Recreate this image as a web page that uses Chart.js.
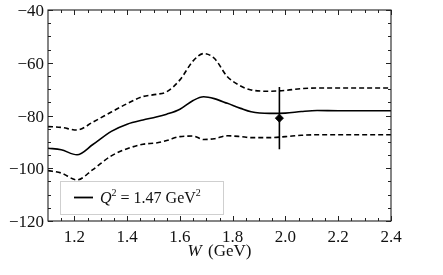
<!DOCTYPE html>
<html><head><meta charset="utf-8">
<script src="https://cdn.jsdelivr.net/npm/chart.js@4/dist/chart.umd.min.js"></script>
<style>html,body{margin:0;padding:0;background:#fff;}#wrap{width:443px;height:275px;position:relative;}</style>
</head><body><div id="wrap"><canvas id="c" width="443" height="275"></canvas></div>
<script>
// ---- data ----
const W       = [1.10, 1.15, 1.21, 1.27, 1.34, 1.40, 1.46, 1.51, 1.55, 1.60, 1.65, 1.69, 1.73, 1.78, 1.83, 1.87, 1.94, 2.00, 2.06, 2.12, 2.20, 2.30, 2.40];
const central = [-92.4, -93.0, -94.9, -91.0, -86.0, -83.3, -81.7, -80.6, -79.5, -77.6, -74.3, -72.9, -73.6, -75.4, -77.3, -78.6, -79.2, -79.1, -78.5, -78.1, -78.2, -78.2, -78.2];
const upper   = [-84.2, -84.5, -85.5, -82.5, -78.7, -75.5, -72.8, -72.0, -71.0, -66.5, -59.3, -56.5, -58.3, -65.3, -68.8, -70.3, -70.8, -70.5, -69.8, -69.6, -69.6, -69.6, -69.6];
const lower   = [-100.9, -101.8, -104.4, -100.5, -95.3, -92.6, -90.9, -90.4, -89.5, -88.0, -87.8, -89.1, -88.8, -87.7, -88.0, -88.4, -88.4, -88.0, -87.5, -87.3, -87.3, -87.3, -87.3];
const pointW   = [1.977];
const pointVal = [-81.0];
const pointErr = [11.8];
const xMajorTicks = [1.2, 1.4, 1.6, 1.8, 2.0, 2.2, 2.4];
const xTickLabels = ["1.2", "1.4", "1.6", "1.8", "2.0", "2.2", "2.4"];
const xMinorTicks = [1.15, 1.25, 1.30, 1.35, 1.45, 1.50, 1.55, 1.65, 1.70, 1.75, 1.85, 1.90, 1.95, 2.05, 2.10, 2.15, 2.25, 2.30, 2.35];
const yMajorTicks = [-120, -100, -80, -60, -40];
const yTickLabels = ["\u2212120", "\u2212100", "\u221280", "\u221260", "\u221240"];
const yMinorTicks = [-115, -110, -105, -95, -90, -85, -75, -70, -65, -55, -50, -45];
const legendQ2 = "1.47";

const FONT = "'Liberation Serif', 'Times New Roman', serif";
Chart.defaults.font.family = FONT;
const toXY = (xs, ys) => xs.map((x, i) => ({x: x, y: ys[i]}));

const decor = {
  id: 'decor',
  afterDatasetsDraw(chart) {
    const ctx = chart.ctx, xs = chart.scales.x, ys = chart.scales.y, a = chart.chartArea;
    ctx.save();
    // error bars
    ctx.strokeStyle = '#000'; ctx.lineWidth = 1.6;
    pointW.forEach((w, i) => {
      const px = xs.getPixelForValue(w);
      ctx.beginPath();
      ctx.moveTo(px, ys.getPixelForValue(pointVal[i] + pointErr[i]));
      ctx.lineTo(px, ys.getPixelForValue(pointVal[i] - pointErr[i]));
      ctx.stroke();
    });
    // frame
    ctx.strokeStyle = '#222'; ctx.lineWidth = 1.1;
    ctx.strokeRect(a.left, a.top, a.right - a.left, a.bottom - a.top);
    // inward ticks
    ctx.lineWidth = 1;
    const tx = (vals, len) => vals.forEach(v => {
      const p = Math.round(xs.getPixelForValue(v)) + 0.5;
      ctx.beginPath(); ctx.moveTo(p, a.bottom); ctx.lineTo(p, a.bottom - len);
      ctx.moveTo(p, a.top); ctx.lineTo(p, a.top + len); ctx.stroke();
    });
    const ty = (vals, len) => vals.forEach(v => {
      const p = Math.round(ys.getPixelForValue(v)) + 0.5;
      ctx.beginPath(); ctx.moveTo(a.left, p); ctx.lineTo(a.left + len, p);
      ctx.moveTo(a.right, p); ctx.lineTo(a.right - len, p); ctx.stroke();
    });
    tx(xMajorTicks, 5); tx(xMinorTicks, 3);
    ty(yMajorTicks, 5); ty(yMinorTicks, 3);
    // tick labels
    ctx.fillStyle = '#111'; ctx.textBaseline = 'alphabetic';
    ctx.font = "17px " + FONT;
    ctx.textAlign = 'center';
    xMajorTicks.forEach((v, i) => ctx.fillText(xTickLabels[i], xs.getPixelForValue(v), a.bottom + 21));
    ctx.textAlign = 'right';
    yMajorTicks.forEach((v, i) => ctx.fillText(yTickLabels[i], a.left - 4, ys.getPixelForValue(v) + 6));
    ctx.textAlign = 'left';
    // x-axis title
    const cx = (a.left + a.right) / 2;
    ctx.font = "italic 17px " + FONT;
    const wW = ctx.measureText('W').width + 2;
    ctx.font = "17px " + FONT;
    const rest = ' (GeV)';
    const wR = ctx.measureText(rest).width;
    const x0 = cx - (wW + wR) / 2;
    ctx.font = "italic 17px " + FONT; ctx.fillText('W', x0, 256);
    ctx.font = "17px " + FONT; ctx.fillText(rest, x0 + wW, 256);
    // legend box
    const lx = 60, ly = 181, lw = 163, lh = 33;
    ctx.fillStyle = '#fff'; ctx.fillRect(lx, ly, lw, lh);
    ctx.strokeStyle = '#cfcfcf'; ctx.lineWidth = 1;
    ctx.strokeRect(lx + 0.5, ly + 0.5, lw, lh);
    ctx.strokeStyle = '#000'; ctx.lineWidth = 1.8;
    ctx.beginPath(); ctx.moveTo(74, 197.5); ctx.lineTo(93, 197.5); ctx.stroke();
    ctx.fillStyle = '#111';
    let x = 100; const base = 203;
    ctx.font = "italic 16px " + FONT; ctx.fillText('Q', x, base); x += ctx.measureText('Q').width;
    ctx.font = "10px " + FONT; ctx.fillText('2', x, base - 7); x += ctx.measureText('2').width;
    ctx.font = "16px " + FONT; const t = ' = ' + legendQ2 + ' GeV'; ctx.fillText(t, x, base); x += ctx.measureText(t).width;
    ctx.font = "10px " + FONT; ctx.fillText('2', x, base - 7);
    ctx.restore();
  }
};

new Chart(document.getElementById('c'), {
  type: 'line',
  data: {
    datasets: [
      {label: 'upper', data: toXY(W, upper), borderColor: '#000', borderWidth: 1.6, borderDash: [5, 3], pointRadius: 0, cubicInterpolationMode: 'monotone', fill: false},
      {label: 'Q2 = 1.47 GeV2', data: toXY(W, central), borderColor: '#000', borderWidth: 1.6, pointRadius: 0, cubicInterpolationMode: 'monotone', fill: false},
      {label: 'lower', data: toXY(W, lower), borderColor: '#000', borderWidth: 1.6, borderDash: [5, 3], pointRadius: 0, cubicInterpolationMode: 'monotone', fill: false},
      {type: 'scatter', label: 'data', data: toXY(pointW, pointVal), pointStyle: 'rectRot', pointRadius: 4, backgroundColor: '#000', borderColor: '#000', showLine: false}
    ]
  },
  options: {
    responsive: false, animation: false, devicePixelRatio: 1,
    layout: {padding: {left: 0, right: 52, top: 10, bottom: 0}},
    plugins: {legend: {display: false}, tooltip: {enabled: false}},
    scales: {
      x: {
        type: 'linear', min: 1.1, max: 2.4,
        grid: {display: false, drawTicks: false}, border: {display: false},
        ticks: {display: false},
        afterFit: s => { s.height = 54; s.paddingLeft = 0; s.paddingRight = 0; }
      },
      y: {
        type: 'linear', min: -120, max: -40,
        grid: {display: false, drawTicks: false}, border: {display: false},
        ticks: {display: false},
        afterFit: s => { s.width = 48; s.paddingTop = 0; s.paddingBottom = 0; }
      }
    }
  },
  plugins: [decor]
});
</script>
</body></html>
